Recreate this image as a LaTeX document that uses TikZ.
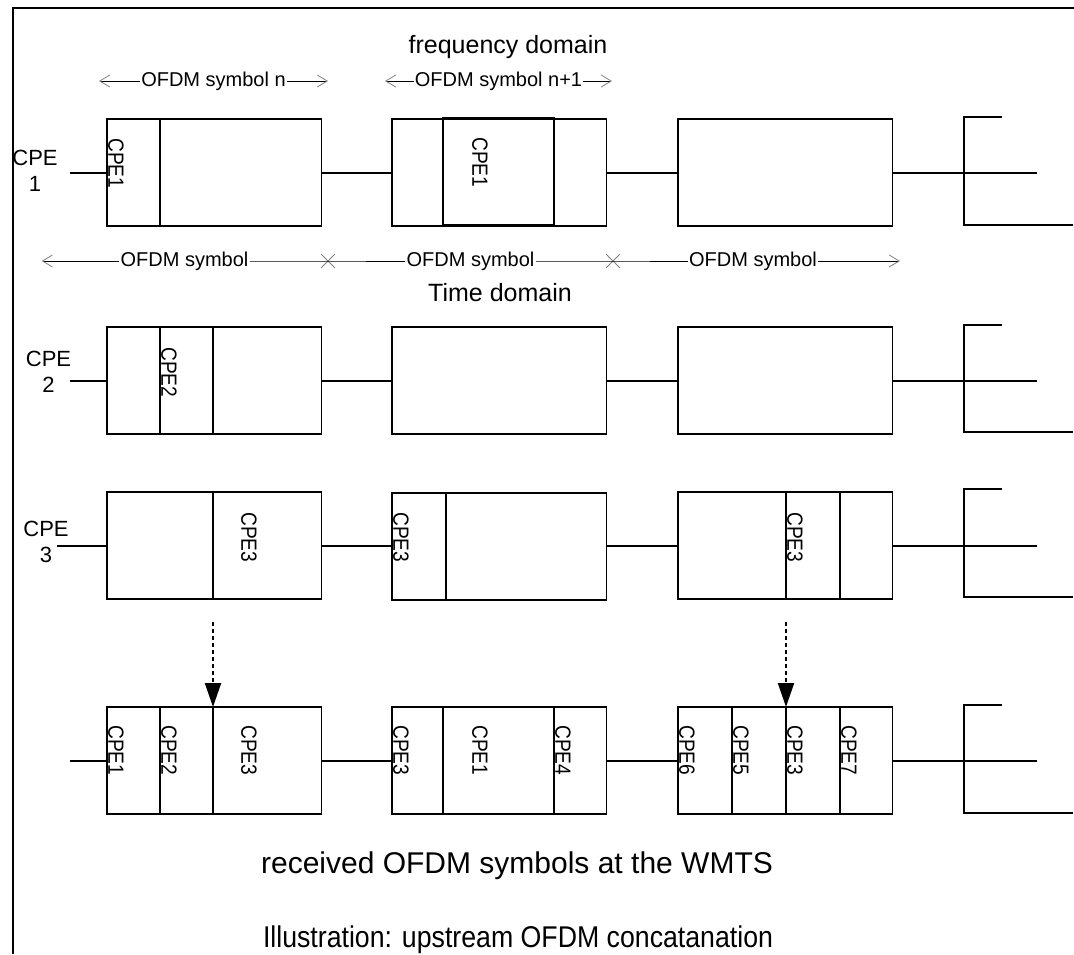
\documentclass[tikz,border=0pt]{standalone}
\usepackage{fontspec}
\setmainfont{Liberation Sans}
\usetikzlibrary{arrows.meta,shapes.misc}
\newcommand\vt[1]{\scalebox{0.87}[1]{#1}}
\begin{document}
\begin{tikzpicture}[x=1pt,y=-1pt,
  sym/.style={draw, line width=1.2pt, minimum width=214.5pt, minimum height=107pt, anchor=north west, inner sep=0pt, outer sep=0pt},
  inbox/.style={draw, line width=1.2pt, minimum width=111pt, minimum height=107pt, anchor=north west, inner sep=0pt, outer sep=0pt},
  div/.style={line width=1.2pt},
  wire/.style={line width=2pt},
  brk/.style={line width=2.5pt},
  vlab/.style={rotate=-90, anchor=south west, inner sep=0pt, font=\fontsize{22}{22}\selectfont},
  cpe/.style={align=center, font=\fontsize{22}{26}\selectfont, inner sep=0pt},
  ofdm/.style={font=\fontsize{20}{24}\selectfont, inner sep=1pt},
  xm/.style={cross out, draw=gray, line width=0.8pt, minimum size=13pt, inner sep=0pt},
  dim/.style={line width=1pt, -{Straight Barb[length=10pt,width=12pt,color=gray,line width=0.8pt]}},
  dasharr/.style={line width=2pt, dash pattern=on 4pt off 3pt, -{Triangle[length=24pt,width=16pt]}},
  title/.style={font=\fontsize{25}{30}\selectfont},
  big/.style={font=\fontsize{30}{34}\selectfont},
]
\useasboundingbox (0,0) rectangle (1074,954);
% frame
\draw[line width=2pt] (13,954) -- (13,8) -- (1074,8);

% titles
\node[title] (fd) at (508,47) {frequency domain};
\node[title] (td) at (500,293) {Time domain};
\node[big] (rx) at (517,866) {received OFDM symbols at the WMTS};
\node[big] (ill) at (518,940) {\scalebox{0.89}[1]{Illustration: upstream OFDM concatanation}};

% frequency-domain symbol arrows
\node[ofdm] (f1) at (213.5,81) {OFDM symbol n};
\node[ofdm] (f2) at (498.5,81) {OFDM symbol n+1};
\coordinate (f1l) at (99,81); \coordinate (f1r) at (328,81);
\coordinate (f2l) at (385,81); \coordinate (f2r) at (612,81);
\draw[dim] (f1.west) -- (f1l);
\draw[dim] (f1.east) -- (f1r);
\draw[dim] (f2.west) -- (f2l);
\draw[dim] (f2.east) -- (f2r);

% time-domain symbol row
\node[ofdm] (o1) at (184.5,261) {OFDM symbol};
\node[ofdm] (o2) at (470.5,261) {OFDM symbol};
\node[ofdm] (o3) at (753,261) {OFDM symbol};
\coordinate (ol) at (41.7,261); \coordinate (or) at (900,261);
\node[xm] (x1) at (328,261) {};
\node[xm] (x2) at (613,261) {};
\draw[dim] (o1.west) -- (ol);
\draw[line width=1pt] (o1.east) -- (x1.center) -- (o2.west);
\draw[line width=1pt] (o2.east) -- (x2.center) -- (o3.west);
\draw[dim] (o3.east) -- (or);

% row labels
\node[cpe] (p1) at (35,171) {CPE\\1};
\node[cpe] (p2) at (48.5,371.5) {CPE\\2};
\node[cpe] (p3) at (46,542) {CPE\\3};

% ---------- row 1 ----------
\node[sym] (a1) at (107,119) {};
\node[sym] (b1) at (392,119) {};
\node[inbox] (b1i) at (443,118) {};
\node[sym] (c1) at (678,119) {};
\draw[div] (160,119) -- (160,226);
\node[vlab] (l11) at (108,138) {\vt{CPE1}};
\node[vlab] (l12) at (472,137) {\vt{CPE1}};
\coordinate (s1) at (70,172.5);
\coordinate (e1t) at (1002,117); \coordinate (e1m) at (1037,172.5); \coordinate (e1b) at (1073,225);
\draw[wire] (s1) -- (a1.west);
\draw[wire] (a1.east) -- (b1.west);
\draw[wire] (b1.east) -- (c1.west);
\draw[wire] (c1.east) -- (e1m);
\draw[brk] (e1t) -- (964,117) -- (964,225) -- (e1b);

% ---------- row 2 ----------
\node[sym] (a2) at (107,327) {};
\node[sym] (b2) at (392,327) {};
\node[sym] (c2) at (678,327) {};
\draw[div] (160,327) -- (160,434);
\draw[div] (213,327) -- (213,434);
\node[vlab] (l21) at (161,347) {\vt{CPE2}};
\coordinate (s2) at (70,380.5);
\coordinate (e2t) at (1002,325); \coordinate (e2m) at (1037,380.5); \coordinate (e2b) at (1073,432);
\draw[wire] (s2) -- (a2.west);
\draw[wire] (a2.east) -- (b2.west);
\draw[wire] (b2.east) -- (c2.west);
\draw[wire] (c2.east) -- (e2m);
\draw[brk] (e2t) -- (964,325) -- (964,432) -- (e2b);

% ---------- row 3 ----------
\node[sym] (a3) at (107,492) {};
\node[sym] (b3) at (392,493) {};
\node[sym] (c3) at (678,492) {};
\draw[div] (213,492) -- (213,599);
\draw[div] (446,493) -- (446,600);
\draw[div] (786,492) -- (786,599);
\draw[div] (840,492) -- (840,599);
\node[vlab] (l31) at (241,512) {\vt{CPE3}};
\node[vlab] (l32) at (393,512) {\vt{CPE3}};
\node[vlab] (l33) at (787,512) {\vt{CPE3}};
\coordinate (s3) at (57,545.5);
\coordinate (e3t) at (1002,489); \coordinate (e3m) at (1037,545.5); \coordinate (e3b) at (1073,597);
\draw[wire] (s3) -- (a3.west);
\draw[wire] (a3.east) -- (a3.east -| b3.west);
\draw[wire] (c3.west -| b3.east) -- (c3.west);
\draw[wire] (c3.east) -- (e3m);
\draw[brk] (e3t) -- (964,489) -- (964,597) -- (e3b);

% ---------- row 4 ----------
\node[sym] (a4) at (107,707) {};
\node[sym] (b4) at (392,707) {};
\node[sym] (c4) at (678,707) {};
\draw[div] (160,707) -- (160,814);
\draw[div] (213,707) -- (213,814);
\draw[div] (443,707) -- (443,814);
\draw[div] (554,707) -- (554,814);
\draw[div] (732,707) -- (732,814);
\draw[div] (786,707) -- (786,814);
\draw[div] (840,707) -- (840,814);
\node[vlab] (l41) at (108,725) {\vt{CPE1}};
\node[vlab] (l42) at (161,725) {\vt{CPE2}};
\node[vlab] (l43) at (241,725) {\vt{CPE3}};
\node[vlab] (l44) at (393,725) {\vt{CPE3}};
\node[vlab] (l45) at (472,725) {\vt{CPE1}};
\node[vlab] (l46) at (555,725) {\vt{CPE4}};
\node[vlab] (l47) at (679,725) {\vt{CPE6}};
\node[vlab] (l48) at (733,725) {\vt{CPE5}};
\node[vlab] (l49) at (787,725) {\vt{CPE3}};
\node[vlab] (l40) at (841,725) {\vt{CPE7}};
\coordinate (s4) at (70,760.5);
\coordinate (e4t) at (1002,705); \coordinate (e4m) at (1037,760.5); \coordinate (e4b) at (1073,813);
\draw[wire] (s4) -- (a4.west);
\draw[wire] (a4.east) -- (b4.west);
\draw[wire] (b4.east) -- (c4.west);
\draw[wire] (c4.east) -- (e4m);
\draw[brk] (e4t) -- (964,705) -- (964,813) -- (e4b);

% dashed arrows
\coordinate (d1) at (213,622);
\coordinate (d2) at (786,622);
\draw[dasharr] (d1) -- (d1 |- a4.north);
\draw[dasharr] (d2) -- (d2 |- c4.north);
\end{tikzpicture}
\end{document}
